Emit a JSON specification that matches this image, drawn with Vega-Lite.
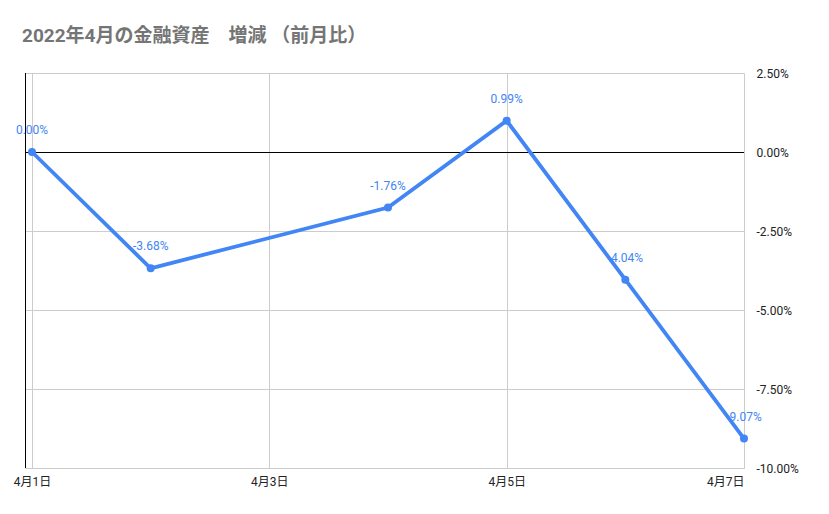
{
  "$schema": "https://vega.github.io/schema/vega-lite/v6.json",
  "autosize": {"type": "none"},
  "width": 719,
  "height": 395,
  "padding": {"left": 25, "top": 73, "right": 85, "bottom": 46},
  "background": "white",
  "config": {
    "font": "Roboto, Noto Sans CJK JP",
    "view": {"stroke": null},
    "locale": {
      "number": {
        "decimal": ".",
        "thousands": ",",
        "grouping": [3],
        "currency": ["$", ""],
        "minus": "-"
      }
    }
  },
  "title": {
    "text": "2022年4月の金融資産　増減 （前月比）",
    "anchor": "start",
    "frame": "group",
    "dx": -3,
    "offset": 21,
    "fontSize": 19,
    "fontWeight": "bold",
    "color": "#757575"
  },
  "data": {
    "values": [
      {"day": 1, "change": 0.0},
      {"day": 2, "change": -0.0368},
      {"day": 4, "change": -0.0176},
      {"day": 5, "change": 0.0099},
      {"day": 6, "change": -0.0404},
      {"day": 7, "change": -0.0907}
    ]
  },
  "encoding": {
    "x": {
      "field": "day",
      "type": "quantitative",
      "scale": {"domain": [0.941, 7], "nice": false, "zero": false},
      "axis": {
        "title": null,
        "values": [1, 3, 5, 7],
        "labelExpr": "'4月' + datum.value + '日'",
        "labelFontSize": 12,
        "labelColor": "#222222",
        "labelPadding": 8,
        "ticks": false,
        "domain": true,
        "domainColor": "#cccccc",
        "grid": true,
        "gridColor": "#cccccc"
      }
    },
    "y": {
      "field": "change",
      "type": "quantitative",
      "scale": {"domain": [-0.1, 0.025], "nice": false, "zero": false},
      "axis": {
        "orient": "right",
        "title": null,
        "values": [0.025, 0, -0.025, -0.05, -0.075, -0.1],
        "format": ".2%",
        "labelFontSize": 12,
        "labelColor": "#222222",
        "labelPadding": 12,
        "ticks": false,
        "domain": false,
        "grid": true,
        "gridColor": "#cccccc"
      }
    }
  },
  "layer": [
    {
      "mark": {"type": "rule", "color": "#000000", "strokeWidth": 1, "xOffset": 0.5},
      "encoding": {"x": {"datum": 0.941}, "y": null}
    },
    {
      "mark": {"type": "rule", "color": "#000000", "strokeWidth": 1, "yOffset": 0.5},
      "encoding": {"y": {"datum": 0}, "x": null}
    },
    {
      "mark": {"type": "line", "color": "#4285F4", "strokeWidth": 3.8}
    },
    {
      "mark": {"type": "point", "filled": true, "opacity": 1, "color": "#4285F4", "size": 64}
    },
    {
      "mark": {"type": "text", "color": "#4285F4", "fontSize": 12, "baseline": "bottom", "dy": -15},
      "encoding": {
        "text": {"field": "change", "type": "quantitative", "format": ".2%"}
      }
    }
  ]
}
